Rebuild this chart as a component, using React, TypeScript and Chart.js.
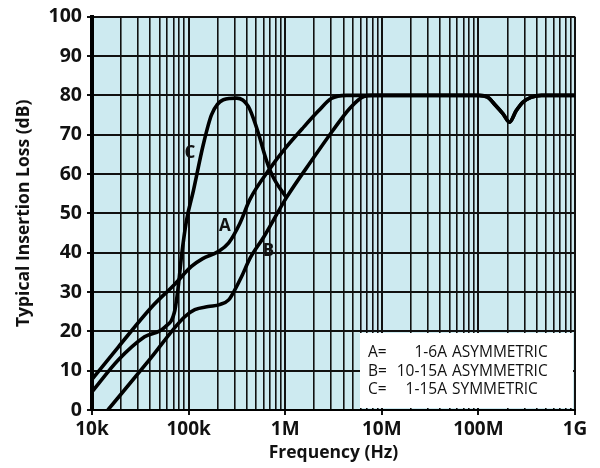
import React, { useEffect, useRef } from 'react';
import { Chart, registerables } from 'chart.js';
Chart.register(...registerables);

// ---- data (frequency in Hz, insertion loss in dB) ----
const freqA = [1e4, 1.87e4, 4.15e4, 7.2e4, 1.07e5, 1.4e5, 2.0e5, 2.6e5, 3.4e5, 4.3e5, 7.0e5, 1.0e6, 1.5e6, 2.2e6, 3.0e6, 4.3e6, 1.0e8, 1.25e8, 1.5e8, 1.8e8, 2.1e8, 2.45e8, 2.9e8, 3.5e8, 4.5e8, 1e9];
const lossA = [7.8, 16, 26.2, 32, 36.5, 38.5, 40.2, 42.5, 47.5, 53.5, 61.5, 66.5, 71.5, 76, 79.2, 80, 80, 79.5, 77.5, 75.3, 73.2, 76, 78.3, 79.5, 80, 80];

const freqB = [1.46e4, 4.0e4, 9.0e4, 1.16e5, 1.6e5, 2.1e5, 2.6e5, 3.0e5, 3.55e5, 4.3e5, 6.0e5, 1.03e6, 1.95e6, 3.1e6, 4.7e6, 6.5e6, 8.0e6, 1.0e8, 1.25e8, 1.5e8, 1.8e8, 2.1e8, 2.45e8, 2.9e8, 3.5e8, 4.5e8, 1e9];
const lossB = [0, 13, 23.6, 25.5, 26.3, 26.8, 28, 30.5, 34, 38.5, 44, 54, 64, 71, 76.8, 79.7, 80, 80, 79.5, 77.5, 75.3, 73.2, 76, 78.3, 79.5, 80, 80];

const freqC = [1e4, 1.87e4, 3.5e4, 5.7e4, 7.2e4, 7.8e4, 8.5e4, 9.5e4, 1.12e5, 1.42e5, 1.73e5, 2.29e5, 3.15e5, 4.15e5, 5.07e5, 6.43e5, 7.54e5, 1.03e6];
const lossC = [4.6, 12.7, 18.6, 21.1, 25.3, 31.2, 39.7, 48.1, 55.7, 67.5, 75.1, 78.9, 79.3, 77.2, 71.7, 63.3, 59.1, 54];

const xDecades = [1e4, 1e5, 1e6, 1e7, 1e8, 1e9];
const xTickLabels = ['10k', '100k', '1M', '10M', '100M', '1G'];
const yMin = 0;
const yMax = 100;
const yStep = 10;

const curveNames = ['A', 'B', 'C'];
const curveLabelFreq = [2.38e5, 6.7e5, 1.03e5];
const curveLabelLoss = [46.8, 40.5, 65.3];

const legendKeys = ['A=', 'B=', 'C='];
const legendRatings = ['1-6A', '10-15A', '1-15A'];
const legendTypes = ['ASYMMETRIC', 'ASYMMETRIC', 'SYMMETRIC'];

const BG = '#cdeaf0';
const FONT = "'Open Sans', 'DejaVu Sans', sans-serif";

function toPoints(xs: number[], ys: number[]) {
  return xs.map((x, i) => ({ x, y: ys[i] }));
}

function isDecade(v: number) {
  return xDecades.some((d) => Math.abs(v - d) / d < 1e-6);
}

const xGridValues: number[] = (() => {
  const out: number[] = [];
  for (let e = 4; e < 9; e++) {
    for (let m = 1; m <= 9; m++) out.push(m * Math.pow(10, e));
  }
  out.push(1e9);
  return out;
})();

const decorPlugin = {
  id: 'decor',
  beforeDraw(chart: any) {
    const { ctx, chartArea } = chart;
    ctx.save();
    ctx.fillStyle = BG;
    ctx.fillRect(chartArea.left, chartArea.top, chartArea.right - chartArea.left, chartArea.bottom - chartArea.top);
    ctx.restore();
  },
  afterDatasetsDraw(chart: any) {
    const { ctx, scales } = chart;
    const xs = scales.x;
    const ys = scales.y;
    ctx.save();
    // curve labels
    ctx.fillStyle = '#111';
    ctx.font = `bold 17px ${FONT}`;
    ctx.textAlign = 'center';
    ctx.textBaseline = 'middle';
    curveNames.forEach((n, i) => {
      ctx.fillText(n, xs.getPixelForValue(curveLabelFreq[i]), ys.getPixelForValue(curveLabelLoss[i]));
    });
    // legend box
    const left = Math.round(xs.getPixelForValue(5.9e6));
    const right = chart.chartArea.right - 2;
    const top = Math.round(ys.getPixelForValue(19.7));
    const bottom = chart.chartArea.bottom - 2;
    ctx.fillStyle = '#ffffff';
    ctx.fillRect(left, top, right - left, bottom - top);
    ctx.fillStyle = '#111';
    ctx.font = `15.5px ${FONT}`;
    const lh = 18.5;
    const y0 = top + 20;
    for (let i = 0; i < legendKeys.length; i++) {
      const y = y0 + i * lh;
      ctx.textAlign = 'left';
      ctx.fillText(legendKeys[i], left + 8, y);
      ctx.textAlign = 'right';
      ctx.fillText(legendRatings[i], left + 87, y);
      ctx.textAlign = 'left';
      ctx.fillText(legendTypes[i], left + 92, y);
    }
    ctx.restore();
  },
};

export default function App() {
  const ref = useRef<HTMLCanvasElement>(null);
  useEffect(() => {
    if (!ref.current) return;
    const line = (xs: number[], ys: number[]) => ({
      data: toPoints(xs, ys),
      borderColor: '#000',
      borderWidth: 3.6,
      pointRadius: 0,
      fill: false,
      cubicInterpolationMode: 'monotone' as const,
    });
    const chart = new Chart(ref.current, {
      type: 'line',
      data: {
        datasets: [
          { label: 'A', ...line(freqA, lossA) },
          { label: 'B', ...line(freqB, lossB) },
          { label: 'C', ...line(freqC, lossC) },
        ],
      },
      options: {
        responsive: false,
        animation: false,
        events: [],
        layout: { padding: { left: 0, right: 25, top: 15, bottom: 0 } },
        plugins: { legend: { display: false }, tooltip: { enabled: false } },
        scales: {
          x: {
            type: 'logarithmic',
            min: 1e4,
            max: 1e9,
            afterBuildTicks: (scale: any) => {
              scale.ticks = xGridValues.map((v) => ({ value: v }));
            },
            afterFit: (scale: any) => {
              scale.height = 58;
            },
            ticks: {
              autoSkip: false,
              maxRotation: 0,
              padding: 3,
              color: '#111',
              font: { family: FONT, weight: 'bold', size: 19 },
              callback: (value: any) => {
                const i = xDecades.findIndex((d) => Math.abs(Number(value) - d) / d < 1e-6);
                return i >= 0 ? xTickLabels[i] : '';
              },
            },
            grid: {
              color: '#111',
              lineWidth: (c: any) => (c.tick && isDecade(c.tick.value) ? 2 : 1.6),
              tickLength: 5,
              tickColor: (c: any) => (c.tick && isDecade(c.tick.value) ? '#111' : 'rgba(0,0,0,0)'),
            },
            border: { display: true, color: '#000', width: 2 },
            title: {
              display: true,
              text: 'Frequency (Hz)',
              color: '#111',
              font: { family: FONT, weight: 'bold', size: 17.5 },
              padding: { top: 0, bottom: 4 },
            },
          },
          y: {
            type: 'linear',
            min: yMin,
            max: yMax,
            afterFit: (scale: any) => {
              scale.width = 92;
            },
            ticks: {
              stepSize: yStep,
              padding: 5,
              color: '#111',
              font: { family: FONT, weight: 'bold', size: 19.5 },
            },
            grid: {
              color: '#111',
              lineWidth: 2,
              tickLength: 5,
              tickColor: '#111',
            },
            border: { display: true, color: '#000', width: 4 },
            title: {
              display: true,
              text: 'Typical Insertion Loss (dB)',
              color: '#111',
              font: { family: FONT, weight: 'bold', size: 17.5 },
              padding: { top: 14, bottom: 0 },
            },
          },
        },
      } as any,
      plugins: [decorPlugin],
    });
    return () => chart.destroy();
  }, []);

  return (
    <div style={{ position: 'absolute', left: 0, top: 0, width: 600, height: 468 }}>
      <canvas ref={ref} width={600} height={468} />
    </div>
  );
}
